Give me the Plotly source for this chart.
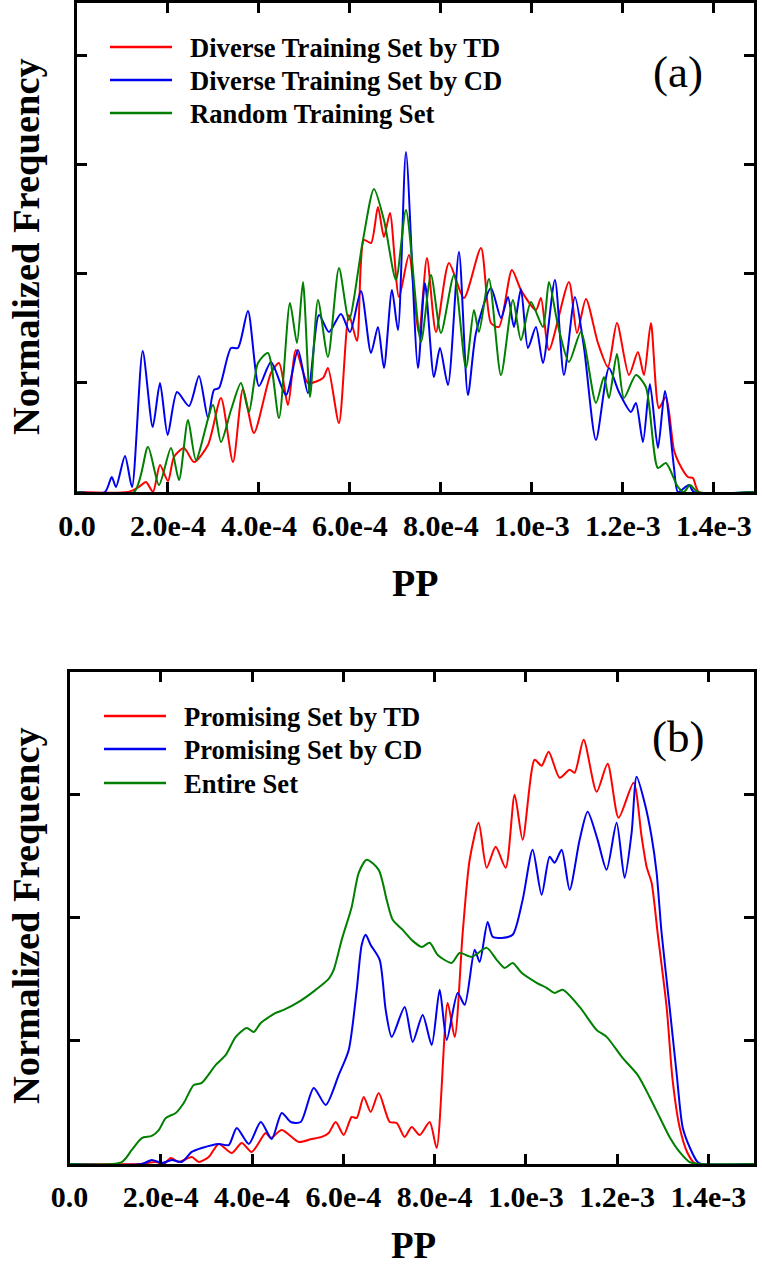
import plotly.graph_objects as go

# ---------------- Panel (a) data (PP in units of 1e-4, normalized frequency) ----------------
a_td_pp = [0.0, 1.121, 1.363, 1.516, 1.670, 1.824, 2.0, 2.132, 2.352, 2.571, 2.879, 3.165, 3.429, 3.648, 3.890,
           4.264, 4.440, 4.637, 4.813, 5.077, 5.407, 5.516, 5.758, 5.978, 6.154, 6.308, 6.462, 6.615, 6.747,
           6.879, 7.077, 7.297, 7.516, 7.692, 7.890, 8.176, 8.505, 8.879, 9.099, 9.275, 9.560, 9.758, 10.088,
           10.198, 10.374, 10.813, 10.989, 11.187, 11.451, 11.670, 11.868, 12.132, 12.330, 12.462, 12.615,
           12.791, 12.945, 13.121, 13.231, 13.429, 13.538, 13.670, 14.9]
a_td_f = [0, 0, 0.046, 0.092, 0, 0.248, 0.101, 0.321, 0.404, 0.275, 0.431, 0.862, 0.275, 0.945, 0.541,
          1.092, 1.183, 0.798, 1.303, 1.0, 1.046, 1.138, 0.633, 1.624, 1.385, 2.312, 2.284, 2.615, 2.339,
          2.560, 1.789, 2.174, 1.459, 2.147, 1.468, 2.101, 1.780, 2.239, 1.550, 1.514, 2.037, 1.853, 1.670,
          1.780, 1.303, 1.927, 1.459, 1.771, 1.367, 1.147, 1.550, 1.073, 1.284, 1.073, 1.550,
          0.771, 0.872, 0.385, 0.266, 0.138, 0.128, 0, 0]

a_cd_pp = [0.0, 0.615, 0.763, 0.857, 1.055, 1.209, 1.444, 1.664, 1.824, 1.993, 2.198, 2.462, 2.681, 2.879,
           3.011, 3.121, 3.385, 3.538, 3.758, 4.0, 4.264, 4.593, 4.857, 5.077, 5.319, 5.538, 5.802, 6.0,
           6.242, 6.462, 6.615, 6.747, 6.923, 7.055, 7.231, 7.495, 7.648, 7.846, 7.978, 8.154, 8.396, 8.593,
           8.769, 9.099, 9.319, 9.473, 9.604, 9.758, 9.912, 10.088, 10.242, 10.505, 10.703, 10.945, 11.143,
           11.407, 11.692, 11.912, 12.176, 12.286, 12.44, 12.593, 12.769, 12.923, 13.121, 13.209, 13.451,
           13.56, 14.9]
a_cd_f = [0, 0, 0.138, 0.046, 0.33, 0.046, 1.294, 0.596, 1.0, 0.523, 0.917, 0.789, 1.064, 0.679,
          0.936, 0.954, 1.321, 1.321, 1.661, 0.972, 1.193, 0.89, 1.303, 0.908, 1.624, 1.468, 1.633, 1.468,
          1.844, 1.275, 1.514, 1.138, 1.853, 1.486, 3.119, 1.138, 1.917, 1.055, 1.321, 0.982, 2.202, 0.89,
          1.459, 1.872, 1.596, 1.789, 1.514, 1.862, 1.321, 1.514, 1.183, 1.945, 1.073, 1.789, 1.330,
          0.477, 1.138, 0.917, 0.734, 0.817, 0.459, 0.991, 0.404, 0.927, 0.229, 0, 0.064,
          0, 0]

a_rand_pp = [0.0, 1.253, 1.560, 1.802, 2.066, 2.242, 2.440, 2.615, 2.989, 3.165, 3.385, 3.604, 3.780, 3.978,
             4.198, 4.440, 4.681, 4.835, 4.967, 5.121, 5.297, 5.516, 5.758, 5.978, 6.286, 6.527, 6.747,
             7.011, 7.231, 7.560, 7.780, 8.0, 8.286, 8.549, 8.725, 8.835, 9.055, 9.319, 9.582, 9.758, 9.978,
             10.242, 10.374, 10.571, 10.813, 11.077, 11.407, 11.582, 11.692, 11.868, 12.022, 12.286, 12.505,
             12.769, 12.945, 13.209, 13.341, 13.473, 13.648, 14.9]
a_rand_f = [0, 0, 0.413, 0.064, 0.404, 0.110, 0.661, 0.294, 0.798, 0.459, 0.752, 1.0, 0.734, 1.183,
            1.275, 0.679, 1.734, 1.367, 1.927, 0.872, 1.761, 1.239, 2.055, 1.578, 2.312, 2.780, 2.495,
            1.945, 2.587, 1.376, 1.991, 1.459, 1.991, 1.138, 1.670, 1.468, 1.954, 1.073, 1.761, 1.394, 1.743,
            1.514, 1.927, 1.532, 1.193, 1.468, 0.817, 1.055, 0.862, 1.266, 0.862, 1.073, 0.963,
            0.220, 0.266, 0.046, 0, 0.064, 0, 0]

# ---------------- Panel (b) data ----------------
b_td_pp = [0.0, 1.518, 1.891, 2.066, 2.219, 2.394, 2.679, 2.832, 3.051, 3.271, 3.556, 3.775, 3.994, 4.300,
           4.410, 4.651, 5.023, 5.308, 5.527, 5.680, 5.833, 6.009, 6.184, 6.294, 6.447, 6.600, 6.776, 7.017,
           7.170, 7.345, 7.498, 7.674, 7.893, 8.046, 8.287, 8.441, 8.616, 8.769, 8.966, 9.142, 9.339, 9.558,
           9.755, 9.930, 10.193, 10.346, 10.500, 10.741, 10.960, 11.069, 11.267, 11.551, 11.792, 12.033,
           12.361, 12.537, 12.646, 12.756, 12.888, 13.085, 13.216, 13.369, 13.544, 13.698, 15.0]
b_td_f = [0, 0, 0.016, 0, 0.049, 0.016, 0.057, 0.016, 0.057, 0.163, 0.089, 0.171, 0.098, 0.252,
          0.211, 0.276, 0.179, 0.203, 0.220, 0.252, 0.341, 0.236, 0.382, 0.374, 0.545, 0.423, 0.577, 0.341,
          0.333, 0.220, 0.301, 0.236, 0.341, 0.130, 1.309, 1.033, 1.878, 2.472, 2.772, 2.407, 2.577, 2.407,
          3.0, 2.634, 3.285, 3.236, 3.350, 3.138, 3.203, 3.179, 3.447, 3.024, 3.252, 2.813,
          3.098, 2.659, 2.415, 2.285, 1.878, 1.276, 0.683, 0.301, 0.089, 0.008, 0]

b_cd_pp = [0.0, 1.584, 1.803, 2.022, 2.241, 2.460, 2.679, 2.898, 3.271, 3.490, 3.665, 3.928, 4.191, 4.432,
           4.651, 4.848, 5.067, 5.352, 5.615, 5.900, 6.119, 6.294, 6.403, 6.491, 6.600, 6.797, 6.929, 7.061,
           7.345, 7.521, 7.740, 7.937, 8.112, 8.266, 8.506, 8.660, 8.879, 8.988, 9.163, 9.273, 9.470, 9.711,
           9.930, 10.149, 10.346, 10.521, 10.631, 10.785, 10.960, 11.179, 11.354, 11.573, 11.770, 11.989,
           12.164, 12.318, 12.428, 12.603, 12.756, 12.866, 12.975, 13.150, 13.303, 13.435, 13.588, 13.763,
           13.851, 15.0]
b_cd_f = [0, 0, 0.033, 0.008, 0.033, 0.016, 0.098, 0.130, 0.163, 0.154, 0.293, 0.163, 0.341, 0.203,
          0.415, 0.341, 0.341, 0.618, 0.480, 0.724, 0.927, 1.415, 1.780, 1.862, 1.780, 1.659, 1.252, 1.033,
          1.276, 0.992, 1.211, 0.967, 1.415, 1.008, 1.390, 1.293, 1.740, 1.642, 1.967, 1.846, 1.837, 1.862,
          2.146, 2.553, 2.187, 2.496, 2.447, 2.553, 2.228, 2.634, 2.862, 2.634, 2.390, 2.772,
          2.325, 2.691, 3.146, 2.935, 2.659, 2.366, 1.878, 1.276, 0.740, 0.301, 0.138, 0.016,
          0, 0]

b_all_pp = [0.0, 1.146, 1.365, 1.584, 1.803, 1.956, 2.110, 2.329, 2.504, 2.723, 2.898, 3.205, 3.424, 3.643,
            3.884, 4.037, 4.191, 4.519, 4.694, 5.023, 5.395, 5.680, 5.790, 5.965, 6.184, 6.338, 6.513, 6.776,
            6.951, 7.083, 7.302, 7.521, 7.718, 7.893, 8.068, 8.375, 8.550, 8.813, 9.142, 9.361, 9.536, 9.711,
            9.908, 10.237, 10.456, 10.631, 10.807, 11.179, 11.551, 11.770, 12.120, 12.449, 12.712, 12.931,
            13.150, 13.369, 13.588, 13.807, 15.0]
b_all_f = [0, 0.016, 0.114, 0.211, 0.228, 0.276, 0.374, 0.415, 0.496, 0.642, 0.659, 0.805, 0.886, 1.033,
           1.106, 1.073, 1.146, 1.228, 1.252, 1.317, 1.415, 1.504, 1.577, 1.821, 2.089, 2.366, 2.472, 2.390,
           2.146, 1.984, 1.902, 1.813, 1.764, 1.797, 1.699, 1.634, 1.715, 1.683, 1.756, 1.659, 1.593, 1.634,
           1.553, 1.472, 1.431, 1.390, 1.415, 1.276, 1.089, 1.033, 0.862, 0.724, 0.545, 0.382,
           0.220, 0.098, 0.016, 0, 0]

tick_vals = [0.0, 2.0e-4, 4.0e-4, 6.0e-4, 8.0e-4, 1.0e-3, 1.2e-3, 1.4e-3]
tick_text = ["0.0", "2.0e-4", "4.0e-4", "6.0e-4", "8.0e-4", "1.0e-3", "1.2e-3", "1.4e-3"]

legend_a = ["Diverse Training Set by TD", "Diverse Training Set by CD", "Random Training Set"]
legend_b = ["Promising Set by TD", "Promising Set by CD", "Entire Set"]

RED, BLUE, GREEN = "#ff0000", "#0000f0", "#007f00"
SERIF = "Liberation Serif"
W, H = 762, 1269


def px_x(p):
    return p / W


def px_y(p):
    return 1 - p / H


fig = go.Figure()

panels = [
    ("x", "y", [(a_td_pp, a_td_f, RED), (a_cd_pp, a_cd_f, BLUE), (a_rand_pp, a_rand_f, GREEN)]),
    ("x2", "y2", [(b_td_pp, b_td_f, RED), (b_cd_pp, b_cd_f, BLUE), (b_all_pp, b_all_f, GREEN)]),
]
for xa, ya, series in panels:
    for pp, f, col in series:
        fig.add_trace(go.Scatter(
            x=[v * 1e-4 for v in pp], y=f, xaxis=xa, yaxis=ya, mode="lines",
            line=dict(color=col, width=2, shape="spline", smoothing=0.7),
            showlegend=False, hoverinfo="skip", cliponaxis=True))

axis_common = dict(showgrid=False, zeroline=False, showline=True, linecolor="black", linewidth=3,
                   mirror="ticks", ticks="inside", ticklen=10, tickwidth=2.5, tickcolor="black",
                   automargin=False)

fig.update_layout(
    template="none",
    width=W, height=H, margin=dict(l=0, r=0, t=0, b=0, pad=0), autosize=False,
    paper_bgcolor="white", plot_bgcolor="white",
    xaxis=dict(domain=[px_x(77), px_x(753.5)], range=[0, 1.487e-3], anchor="y",
               tickvals=tick_vals, ticktext=tick_text, ticklabelstandoff=5,
               tickfont=dict(family=SERIF, size=30, color="black", weight="bold"), **axis_common),
    yaxis=dict(domain=[px_y(492), px_y(3)], range=[0, 4.486], anchor="x",
               tickvals=[1, 2, 3, 4], showticklabels=False, **axis_common),
    xaxis2=dict(domain=[px_x(69.5), px_x(754)], range=[0, 1.5e-3], anchor="y2",
                tickvals=tick_vals, ticktext=tick_text, ticklabelstandoff=4,
                tickfont=dict(family=SERIF, size=30, color="black", weight="bold"), **axis_common),
    yaxis2=dict(domain=[px_y(1164), px_y(671.7)], range=[0, 4.0], anchor="x2",
                tickvals=[1, 2, 3], showticklabels=False, **axis_common),
)

ann = []
shapes = []
# axis titles
for cy in (247, 916):
    ann.append(dict(text="Normalized Frequency", x=px_x(26), y=px_y(cy), xref="paper", yref="paper",
                    textangle=-90, showarrow=False, xanchor="center", yanchor="middle",
                    font=dict(family=SERIF, size=38.5, color="black", weight="bold")))
ann.append(dict(text="PP", x=px_x(415), y=px_y(583), xref="paper", yref="paper", showarrow=False,
                xanchor="center", yanchor="middle",
                font=dict(family=SERIF, size=38, color="black", weight="bold")))
ann.append(dict(text="PP", x=px_x(413), y=px_y(1268), xref="paper", yref="paper", showarrow=False,
                xanchor="center", yanchor="bottom",
                font=dict(family=SERIF, size=37, color="black", weight="bold")))
# panel labels
for lab, cy in (("(a)", 72), ("(b)", 737)):
    ann.append(dict(text=lab, x=px_x(678), y=px_y(cy), xref="paper", yref="paper", showarrow=False,
                    xanchor="center", yanchor="middle",
                    font=dict(family=SERIF, size=45, color="black")))
# legends
for names, x0, x1, tx, rows in ((legend_a, 110, 172, 188, (47, 80, 113)),
                                (legend_b, 104, 166, 182, (716, 749, 783))):
    for name, col, ry in zip(names, (RED, BLUE, GREEN), rows):
        shapes.append(dict(type="line", xref="paper", yref="paper", x0=px_x(x0), x1=px_x(x1),
                           y0=px_y(ry), y1=px_y(ry), line=dict(color=col, width=2.5)))
        ann.append(dict(text=name, x=px_x(tx), y=px_y(ry + 1), xref="paper", yref="paper",
                        showarrow=False, xanchor="left", yanchor="middle",
                        font=dict(family=SERIF, size=26.6, color="black", weight="bold")))

fig.update_layout(annotations=ann, shapes=shapes)
fig.write_html("out.html", config={"displayModeBar": False},
               post_script="document.body.style.margin='0';document.body.style.overflow='hidden';")
